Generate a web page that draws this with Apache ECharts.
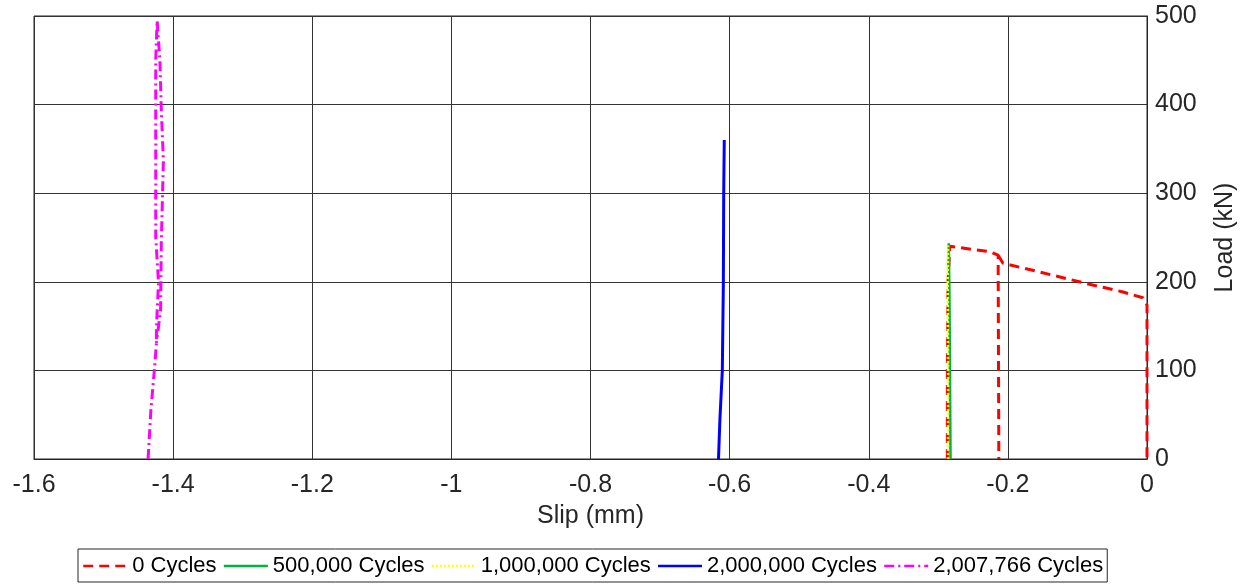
<!DOCTYPE html>
<html>
<head>
<meta charset="utf-8">
<script src="https://cdn.jsdelivr.net/npm/echarts@6/dist/echarts.min.js"></script>
<style>
  html, body { margin: 0; padding: 0; background: #ffffff; }
  #chart { width: 1252px; height: 585px; }
</style>
</head>
<body>
<div id="chart"></div>
<script>
// Load–slip curves for each fatigue stage (slip in mm, load in kN).
// A null entry splits a curve into separate strokes.
const seriesNames = ['0 Cycles', '500,000 Cycles', '1,000,000 Cycles', '2,000,000 Cycles', '2,007,766 Cycles'];

const slip0 = [-0.287, -0.287, -0.286, -0.2835, -0.226, -0.214, -0.213, null, -0.214, -0.207, -0.154, -0.092, -0.0345, -0.006, 0, 0];
const load0 = [0, 100, 200, 240, 234, 230, 0, null, 230, 221, 211, 199, 188.5, 182, 174, 0];

const slip500k = [-0.2825, -0.283, -0.2835, -0.284, -0.285];
const load500k = [0, 60, 120, 180, 243.5];

const slip1m = [-0.286, -0.286, -0.2865, -0.286];
const load1m = [0, 100, 200, 241];

const slip2m = [-0.616, -0.614, -0.6105, -0.609, -0.6085, -0.6077];
const load2m = [0, 44, 100, 200, 300, 360];

const slip2007k = [-1.436, -1.432, -1.427, -1.424, -1.424, -1.421, -1.425, -1.425, -1.425, -1.423, -1.419, -1.417, -1.414, -1.417, -1.418, -1.424];
const load2007k = [0, 55, 100, 131, 149, 199, 250, 350, 450, 495, 450, 394, 337, 244, 168, 131];

const xTicks = { min: -1.6, max: 0, step: 0.2 };
const yTicks = { min: 0, max: 500, step: 100 };

function pairs(xs, ys) {
  return xs.map((x, i) => (x === null || ys[i] === null) ? ['-', '-'] : [x, ys[i]]);
}

const font = "'Liberation Sans', Arial, Helvetica, sans-serif";
const ink = '#262626';

const styles = [
  { color: '#ff0000', width: 3, type: [10, 6] },
  { color: '#00b33c', width: 2.6, type: 'solid' },
  { color: '#ffff00', width: 2.6, type: [2, 2] },
  { color: '#0000ff', width: 3, type: 'solid' },
  { color: '#ff00ff', width: 3, type: [10, 4, 2, 4] }
];

const curves = [
  pairs(slip0, load0),
  pairs(slip500k, load500k),
  pairs(slip1m, load1m),
  pairs(slip2m, load2m),
  pairs(slip2007k, load2007k)
];

const chart = echarts.init(document.getElementById('chart'), null, { renderer: 'canvas' });

chart.setOption({
  animation: false,
  backgroundColor: '#ffffff',
  textStyle: { fontFamily: font, color: ink },
  grid: {
    left: 34, right: 105, top: 16, bottom: 126,
    show: true, borderColor: ink, borderWidth: 1, backgroundColor: '#ffffff'
  },
  legend: {
    data: seriesNames,
    left: 78, top: 549,
    itemWidth: 44, itemHeight: 14, itemGap: 6,
    padding: [6, 4, 5, 4],
    borderColor: ink, borderWidth: 1,
    backgroundColor: '#ffffff',
    itemStyle: { opacity: 0 },
    lineStyle: { width: 2.5 },
    textStyle: { fontFamily: font, fontSize: 22, color: '#000000' }
  },
  xAxis: {
    type: 'value',
    min: xTicks.min, max: xTicks.max, interval: xTicks.step,
    name: 'Slip (mm)', nameLocation: 'middle', nameGap: 45,
    nameTextStyle: { fontFamily: font, fontSize: 25, color: ink },
    axisLine: { show: true, onZero: false, lineStyle: { color: ink, width: 1 } },
    axisTick: { show: false },
    axisLabel: { fontFamily: font, fontSize: 25, color: ink, margin: 14 },
    splitLine: { show: true, lineStyle: { color: '#333333', width: 1 } }
  },
  yAxis: {
    type: 'value', position: 'right',
    min: yTicks.min, max: yTicks.max, interval: yTicks.step,
    name: 'Load (kN)', nameLocation: 'middle', nameGap: 66, nameRotate: 90,
    nameTextStyle: { fontFamily: font, fontSize: 25, color: ink },
    axisLine: { show: true, lineStyle: { color: ink, width: 1 } },
    axisTick: { show: false },
    axisLabel: { fontFamily: font, fontSize: 25, color: ink, margin: 8, align: 'left' },
    splitLine: { show: true, lineStyle: { color: '#333333', width: 1 } }
  },
  series: curves.map((data, i) => ({
    name: seriesNames[i],
    type: 'line',
    data: data,
    symbol: 'none',
    connectNulls: false,
    clip: true,
    lineStyle: { color: styles[i].color, width: styles[i].width, type: styles[i].type },
    itemStyle: { color: styles[i].color },
    z: 2 + i
  }))
});
</script>
</body>
</html>
